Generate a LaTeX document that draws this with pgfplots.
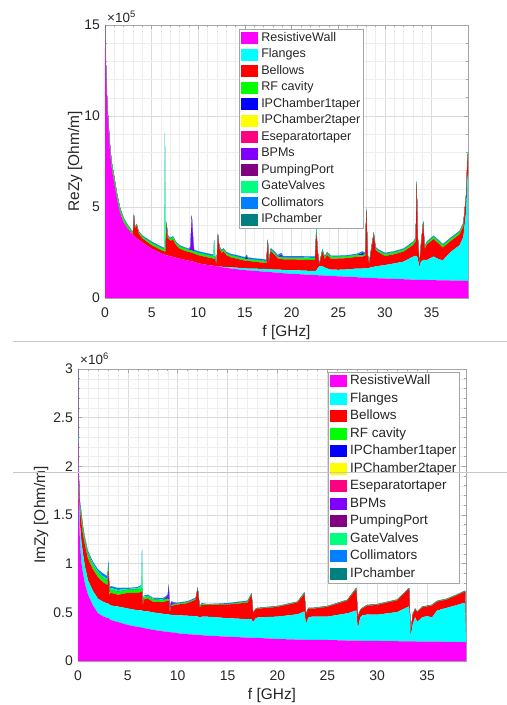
\documentclass[border=0pt]{standalone}
\usepackage{fontspec}
\setmainfont{Liberation Sans}
\usepackage{pgfplots}
\usepackage{pgfplotstable}
\pgfplotsset{compat=1.18}

\definecolor{cRW}{RGB}{255,0,255}
\definecolor{cFL}{RGB}{0,255,255}
\definecolor{cBE}{RGB}{255,0,0}
\definecolor{cRF}{RGB}{0,255,0}
\definecolor{cIP1}{RGB}{0,0,255}
\definecolor{cIP2}{RGB}{255,255,0}
\definecolor{cES}{RGB}{255,0,128}
\definecolor{cBPM}{RGB}{128,0,255}
\definecolor{cPP}{RGB}{128,0,128}
\definecolor{cGV}{RGB}{0,255,128}
\definecolor{cCOL}{RGB}{0,128,255}
\definecolor{cIPC}{RGB}{0,128,128}
\definecolor{txt}{RGB}{38,38,38}
\definecolor{axc}{RGB}{165,165,165}

% ReZy, units of 1e5 Ohm/m
\pgfplotstableread{
f     rw    fl    be    rf    ip    bpm   gv    col   z
0     15.0  0     0     0     0     0     0     0     0
0.05  13.8  0     0     0.10  0     0     0     0     0
0.1   12.7  0     0     0.20  0     0     0     0.02  0
0.2   11.0  0     0     0.25  0     0     0.02  0.02  0
0.3   9.9   0     0     0.30  0     0     0.02  0.03  0
0.5   8.3   0     0     0.30  0     0     0.02  0.03  0
0.7   7.2   0     0     0.30  0     0     0.02  0.03  0
1.0   6.3   0     0     0.30  0     0     0.02  0.03  0
1.3   5.4   0     0     0.28  0     0     0.02  0.03  0
1.6   4.7   0     0     0.25  0     0     0.02  0.03  0
2.0   4.15  0     0     0.20  0     0     0.02  0.03  0
2.5   3.75  0     0.02  0.15  0     0     0.02  0.03  0
2.9   3.50  0     0.05  0.10  0     0     0.01  0.03  0
3.0   3.45  0     0.10  0.08  0     0     0.01  0.03  0
3.1   3.40  0     1.10  0.06  0     0     0.01  0.03  0
3.2   3.35  0     0.45  0.06  0     0     0.01  0.03  0
3.4   3.27  0     0.70  0.06  0     0     0.01  0.03  0
3.6   3.20  0     0.35  0.08  0     0     0.01  0.04  0
4.0   3.05  0     0.22  0.10  0     0     0.01  0.05  0
5.0   2.70  0     0.20  0.12  0     0     0.02  0.06  0
6.0   2.45  0     0.18  0.12  0     0     0.02  0.06  0
6.35  2.38  0     0.18  0.12  0     0     0.02  0.05  0
6.42  2.37  0     0.18  0.10  0     0     6.40  0.03  0
6.5   2.36  0     0.22  0.10  0     0     0.20  0.03  0
6.6   2.34  0     1.75  0.06  0     0     0.02  0.03  0
6.7   2.33  0     1.00  0.08  0     0     0.02  0.04  0
7.0   2.29  0     0.85  0.10  0     0     0.02  0.05  0
7.3   2.25  0     0.95  0.12  0     0     0.02  0.05  0
7.6   2.21  0     0.70  0.12  0     0     0.02  0.05  0
8.0   2.16  0     0.55  0.12  0     0     0.02  0.05  0
8.5   2.10  0     0.50  0.12  0     0     0.02  0.05  0
9.0   2.04  0     0.48  0.12  0     0     0.02  0.05  0
9.15  2.03  0     0.48  0.12  0     0.15  0.02  0.05  0
9.3   2.01  0     0.47  0.12  0     1.90  0.02  0.03  0
9.45  2.00  0     0.46  0.12  0     0.60  0.02  0.03  0
9.55  1.99  0     0.45  0.12  0     0.02  0.02  0.05  0
10.0  1.90  0     0.45  0.12  0     0     0.02  0.08  0
11.0  1.81  0     0.42  0.12  0     0     0.02  0.08  0
11.6  1.77  0     0.40  0.12  0     0     0.02  0.08  0
11.7  1.76  0     0.40  0.12  0     0     0.85  0.08  0
11.8  1.75  0     0.38  0.12  0     0     0.02  0.08  0
11.95 1.74  0     0.03  0.02  0     0     0     0.01  0
12.1  1.73  0     1.70  0.06  0     0     0.02  0.03  0
12.25 1.72  0.01  1.00  0.08  0     0     0.02  0.04  0
12.5  1.70  0.02  0.75  0.10  0     0     0.02  0.05  0
12.7  1.68  0.03  0.85  0.10  0     0     0.02  0.05  0
13.0  1.66  0.04  0.65  0.10  0     0     0.02  0.06  0
13.5  1.62  0.06  0.55  0.10  0     0     0.02  0.07  0
14.0  1.59  0.08  0.50  0.10  0     0     0.02  0.08  0
15.0  1.53  0.10  0.42  0.09  0     0     0.02  0.08  0
15.2  1.52  0.10  0.42  0.09  0.15  0     0.02  0.08  0
15.3  1.52  0.10  0.42  0.09  0     0     0.02  0.08  0
16.0  1.49  0.12  0.38  0.09  0     0     0.02  0.08  0
17.0  1.45  0.15  0.34  0.09  0     0     0.02  0.08  0
17.3  1.44  0.15  0.32  0.09  0     0     0.02  0.08  0
17.45 1.43  0.15  1.50  0.09  0     0     0.02  0.05  0
17.55 1.43  0.15  0.30  0.08  0     0     0.02  0.05  0
17.75 1.42  0.15  1.00  0.09  0     0     0.02  0.06  0
18.2  1.40  0.16  0.80  0.09  0     0     0.02  0.07  0
18.5  1.39  0.17  0.62  0.09  0     0     0.02  0.07  0
18.9  1.37  0.18  0.60  0.09  0.05  0.10  0.02  0.07  0
19.1  1.36  0.18  0.58  0.09  0     0     0.02  0.07  0
20.0  1.33  0.19  0.60  0.08  0     0     0.02  0.08  0
21.0  1.30  0.21  0.60  0.09  0     0     0.02  0.08  0
22.0  1.27  0.22  0.60  0.10  0     0     0.02  0.07  0
22.5  1.26  0.23  0.60  0.10  0     0     0.02  0.07  0
22.65 1.25  0.25  2.00  0.10  0     0     0.30  0.05  0
22.8  1.25  0.40  0.80  0.08  0     0     0.02  0.04  0
22.95 1.24  0.50  0.08  0.03  0     0     0.01  0.02  0
23.3  1.24  0.50  0.80  0.08  0     0     0.02  0.05  0
23.55 1.23  0.45  0.45  0.09  0     0     0.02  0.05  0
23.8  1.22  0.40  0.75  0.09  0     0     0.02  0.05  0
24.2  1.21  0.35  0.60  0.09  0     0     0.02  0.05  0
25.0  1.19  0.36  0.62  0.09  0     0     0.02  0.05  0
26.0  1.17  0.40  0.62  0.09  0     0     0.02  0.05  0
27.0  1.14  0.48  0.65  0.09  0     0     0.02  0.05  0
27.6  1.12  0.50  0.65  0.09  0.10  0     0.02  0.08  0
27.9  1.11  0.52  0.70  0.09  0     0     0.02  0.05  0
28.0  1.11  0.52  3.15  0.08  0     0     0.02  0.04  0
28.15 1.11  0.52  0.70  0.08  0     0     0.02  0.04  0
28.3  1.10  0.55  0.20  0.05  0     0     0.01  0.03  0
28.5  1.10  0.60  0.80  0.09  0     0     0.02  0.05  0
28.8  1.09  0.62  1.75  0.09  0     0     0.02  0.05  0
29.0  1.09  0.65  0.90  0.09  0     0     0.02  0.05  0
29.3  1.08  0.68  0.75  0.09  0     0     0.02  0.05  0
30.0  1.07  0.74  0.50  0.10  0     0     0.02  0.05  0
31.0  1.05  0.85  0.50  0.10  0     0     0.02  0.05  0
32.0  1.03  0.97  0.55  0.10  0     0     0.02  0.05  0
33.0  1.01  1.26  0.63  0.12  0     0     0.02  0.05  0
33.3  1.01  1.30  0.80  0.12  0     0     0.02  0.05  0
33.4  1.00  1.30  3.95  0.12  0     0     0.02  0.05  0
33.5  1.00  1.20  1.20  0.10  0     0     0.02  0.04  0
33.7  1.00  0.70  0.10  0.03  0     0     0.01  0.02  0
33.85 0.99  1.00  0.80  0.08  0     0     0.02  0.04  0
34.1  0.99  1.10  2.00  0.08  0     0     0.02  0.04  0
34.25 0.99  1.10  0.60  0.08  0     0     0.02  0.04  0
34.5  0.99  1.10  0.85  0.10  0     0     0.02  0.05  0
35.2  0.98  1.30  0.95  0.12  0     0     0.02  0.05  0
35.8  0.97  1.15  0.85  0.12  0     0     0.02  0.05  0
36.2  0.97  1.10  0.70  0.12  0     0     0.02  0.05  0
37.0  0.96  1.55  0.60  0.12  0     0     0.02  0.05  0
37.5  0.96  1.75  0.60  0.12  0     0     0.02  0.05  0
38.0  0.95  1.95  0.60  0.12  0     0     0.02  0.05  0
38.4  0.95  2.40  0.60  0.12  0     0     0.02  0.05  0
38.7  0.94  3.80  0.80  0.12  0     0     0.02  0.05  0
38.85 0.93  5.60  1.10  0.12  0     0     0.02  0.05  0
38.9  0.93  5.90  1.00  0.10  0     0     0.02  0.05  0
}\ReData

% ImZy, units of 1e6 Ohm/m
\pgfplotstableread{
f     rw    fl    be    rf    ip    bpm   gv    col   z
0     3.00  0     0     0     0     0     0     0     0
0.02  2.30  0.05  0     0     0     0     0     0     0
0.08  1.60  0.15  0.10  0.05  0     0     0.01  0.01  0
0.2   1.20  0.20  0.15  0.05  0     0     0.02  0.02  0
0.35  1.00  0.22  0.20  0.06  0     0     0.03  0.02  0
0.5   0.90  0.20  0.20  0.05  0     0     0.02  0.02  0
0.7   0.79  0.18  0.22  0.04  0     0     0.02  0.02  0
1.0   0.68  0.15  0.22  0.04  0     0     0.02  0.02  0
1.5   0.57  0.15  0.22  0.04  0     0     0.02  0.02  0
2.0   0.49  0.15  0.22  0.04  0     0     0.02  0.02  0
2.5   0.46  0.15  0.20  0.04  0     0     0.02  0.03  0
2.95  0.44  0.15  0.19  0.04  0     0     0.02  0.03  0
3.05  0.44  0.15  0.35  0.04  0     0     0.02  0.03  0
3.15  0.43  0.15  0.10  0.03  0     0     0.02  0.02  0
3.3   0.42  0.15  0.13  0.03  0     0     0.02  0.02  0
4.0   0.40  0.16  0.12  0.03  0     0     0.02  0.02  0
5.0   0.37  0.17  0.16  0.03  0     0     0.01  0.01  0
6.0   0.35  0.17  0.18  0.03  0     0     0.02  0.01  0
6.35  0.345 0.175 0.19  0.03  0     0     0.03  0.01  0
6.42  0.343 0.175 0.19  0.03  0     0     0.40  0.01  0
6.5   0.34  0.175 0.05  0.02  0     0     0     0.01  0
6.6   0.338 0.175 0.12  0.02  0     0     0.01  0.01  0
7.0   0.33  0.18  0.13  0.02  0     0     0.01  0.01  0
7.5   0.32  0.18  0.11  0.02  0     0     0.01  0.01  0
8.5   0.305 0.18  0.12  0.02  0     0     0.01  0.01  0
9.0   0.30  0.18  0.14  0.02  0     0.03  0     0.01  0
9.1   0.298 0.18  0.14  0.02  0.02  0.10  0     0.03  0
9.2   0.296 0.18  0.02  0.01  0     0.04  0     0.01  0
9.35  0.294 0.18  0.09  0.01  0     0.03  0     0.01  0
9.6   0.292 0.18  0.10  0.01  0     0.01  0     0.01  0
10.0  0.285 0.185 0.11  0.01  0     0     0     0.01  0
11.0  0.275 0.19  0.13  0.01  0     0     0     0.01  0
11.8  0.27  0.19  0.17  0.01  0     0     0     0.01  0
12.0  0.268 0.19  0.28  0.01  0     0     0     0.01  0
12.2  0.266 0.18  0.10  0.01  0     0     0     0.01  0
12.4  0.265 0.19  0.12  0.01  0     0     0     0.01  0
13.0  0.26  0.195 0.12  0.005 0     0     0     0.005 0
15.0  0.25  0.19  0.14  0.005 0     0     0     0.01  0
17.0  0.24  0.19  0.17  0.01  0     0     0     0.01  0
17.4  0.239 0.19  0.25  0.01  0     0     0     0.01  0
17.55 0.238 0.16  0.09  0.005 0     0     0     0.005 0
17.8  0.238 0.20  0.09  0.005 0     0     0     0.005 0
18.0  0.237 0.21  0.09  0.005 0     0     0     0.005 0
20.0  0.226 0.23  0.10  0.005 0     0     0     0.005 0
22.0  0.22  0.26  0.12  0.005 0     0     0     0.005 0
22.7  0.219 0.29  0.18  0.01  0     0     0     0.01  0
22.85 0.218 0.16  0.10  0.005 0     0     0     0.005 0
23.1  0.218 0.23  0.09  0.005 0     0     0     0.005 0
23.5  0.217 0.24  0.08  0.005 0     0     0     0.005 0
25.0  0.216 0.24  0.10  0.005 0     0     0     0.005 0
27.0  0.21  0.28  0.13  0.005 0     0     0     0.005 0
27.9  0.209 0.31  0.22  0.01  0     0     0     0.005 0
28.05 0.209 0.12  0.12  0.005 0     0     0     0.005 0
28.3  0.208 0.24  0.07  0.005 0     0     0     0.005 0
28.5  0.208 0.26  0.07  0.005 0     0     0     0.005 0
29.0  0.208 0.27  0.09  0.005 0     0     0     0.005 0
30.0  0.206 0.27  0.10  0.005 0     0     0     0.005 0
32.0  0.203 0.30  0.12  0.005 0     0     0     0.005 0
33.2  0.202 0.36  0.18  0.005 0     0     0     0.005 0
33.35 0.202 0.05  0.03  0     0     0     0     0     0
33.55 0.201 0.17  0.10  0.005 0     0     0     0.005 0
33.8  0.201 0.25  0.08  0.005 0     0     0     0.005 0
34.0  0.200 0.20  0.10  0.005 0     0     0     0.005 0
34.5  0.200 0.25  0.10  0.005 0     0     0     0.005 0
35.0  0.200 0.26  0.10  0.005 0     0     0     0.005 0
35.5  0.199 0.25  0.12  0.005 0     0     0     0.005 0
36.0  0.199 0.32  0.09  0.005 0     0     0     0.005 0
37.0  0.197 0.35  0.085 0.005 0     0     0     0.005 0
38.0  0.195 0.38  0.10  0.005 0     0     0     0.005 0
38.6  0.194 0.40  0.11  0.005 0     0     0     0.005 0
38.8  0.193 0.40  0.12  0.005 0     0     0     0.005 0
38.9  0.192 0     0     0     0     0     0     0     0
}\ImData

\pgfplotsset{
  zstyle/.style={
    scale only axis,
    anchor=south west,
    stack plots=y,
    clip mode=individual,
    xmin=0, xmax=38.9, ymin=0,
    xtick={0,5,...,35},
    minor tick num=4,
    grid=both,
    major grid style={black!14, line width=0.5bp},
    minor grid style={black!7, line width=0.4bp},
    axis line style={axc, line width=0.6bp},
    tick style={axc, line width=0.6bp},
    major tick length=4bp, minor tick length=2bp,
    /pgf/number format/assume math mode=true,
    tick label style={font=\fontsize{14}{16}\selectfont, text=txt},
    xticklabel style={anchor=base, yshift=-20bp},
    yticklabel style={anchor=east, inner sep=0pt, xshift=-5bp},
    label style={font=\fontsize{15.5}{17}\selectfont, text=txt},
    xlabel style={at={(axis description cs:0.5,0)}, anchor=base, yshift=-39bp},
    area legend,
    legend cell align=left,
    legend image code/.code={\fill[##1] (0bp,-6bp) rectangle (17bp,6bp);},
    legend style={draw=axc, line width=0.6bp, fill=white, text=txt,
      inner xsep=2bp, inner ysep=0.5bp, column sep=2bp, row sep=0pt,
      nodes={inner xsep=1bp, inner ysep=0pt, text height=11.5bp, text depth=5bp}},
  },
  every axis plot/.append style={draw=none},
}

\newcommand{\stackall}[1]{%
  \addplot[fill=cRW] table[x=f,y=rw]{#1} \closedcycle;
  \addplot[fill=cFL] table[x=f,y=fl]{#1} \closedcycle;
  \addplot[fill=cBE] table[x=f,y=be]{#1} \closedcycle;
  \addplot[fill=cRF] table[x=f,y=rf]{#1} \closedcycle;
  \addplot[fill=cIP1] table[x=f,y=ip]{#1} \closedcycle;
  \addplot[fill=cIP2] table[x=f,y=z]{#1} \closedcycle;
  \addplot[fill=cES] table[x=f,y=z]{#1} \closedcycle;
  \addplot[fill=cBPM] table[x=f,y=bpm]{#1} \closedcycle;
  \addplot[fill=cPP] table[x=f,y=z]{#1} \closedcycle;
  \addplot[fill=cGV] table[x=f,y=gv]{#1} \closedcycle;
  \addplot[fill=cCOL] table[x=f,y=col]{#1} \closedcycle;
  \addplot[fill=cIPC] table[x=f,y=z]{#1} \closedcycle;
  \legend{ResistiveWall,Flanges,Bellows,RF cavity,IPChamber1taper,IPChamber2taper,Eseparatortaper,BPMs,PumpingPort,GateValves,Collimators,IPchamber}
}

\begin{document}
\begin{tikzpicture}[x=1bp,y=1bp]
\useasboundingbox (0,0) rectangle (507,705);

\begin{axis}[zstyle,
  at={(105bp,407bp)}, width=363bp, height=273bp,
  ymax=15, ytick={0,5,10,15},
  xlabel={f [GHz]}, ylabel={ReZy [Ohm/m]},
  ylabel style={at={(axis description cs:-0.0716,0.5)}, anchor=base},
  legend style={at={(axis description cs:0.369,0.985)}, anchor=north west,
    font=\fontsize{12.6}{14}\selectfont},
]
\stackall{\ReData}
\node[anchor=base west, inner sep=0pt, text=txt, font=\fontsize{13.5}{15}\selectfont]
  at ([xshift=2bp,yshift=2.5bp]rel axis cs:0,1) {×10\textsuperscript{5}};
\end{axis}

\begin{axis}[zstyle,
  at={(78bp,44bp)}, width=388bp, height=292bp,
  ymax=3, ytick={0,0.5,...,3},
  yticklabels={0,0.5,1,1.5,2,2.5,3},
  xlabel={f [GHz]}, ylabel={ImZy [Ohm/m]},
  ylabel style={at={(axis description cs:-0.085,0.5)}, anchor=base},
  legend style={at={(axis description cs:0.644,0.99)}, anchor=north west,
    font=\fontsize{13.5}{15}\selectfont,
    nodes={text height=12bp, text depth=5.5bp}},
]
\stackall{\ImData}
\node[anchor=base west, inner sep=0pt, text=txt, font=\fontsize{13.5}{15}\selectfont]
  at ([xshift=2bp,yshift=4bp]rel axis cs:0,1) {×10\textsuperscript{6}};
\end{axis}

\draw[black!22, line width=1bp] (13,363) -- (507,363);
\draw[black!22, line width=1bp] (13,232) -- (507,232);
\end{tikzpicture}
\end{document}
